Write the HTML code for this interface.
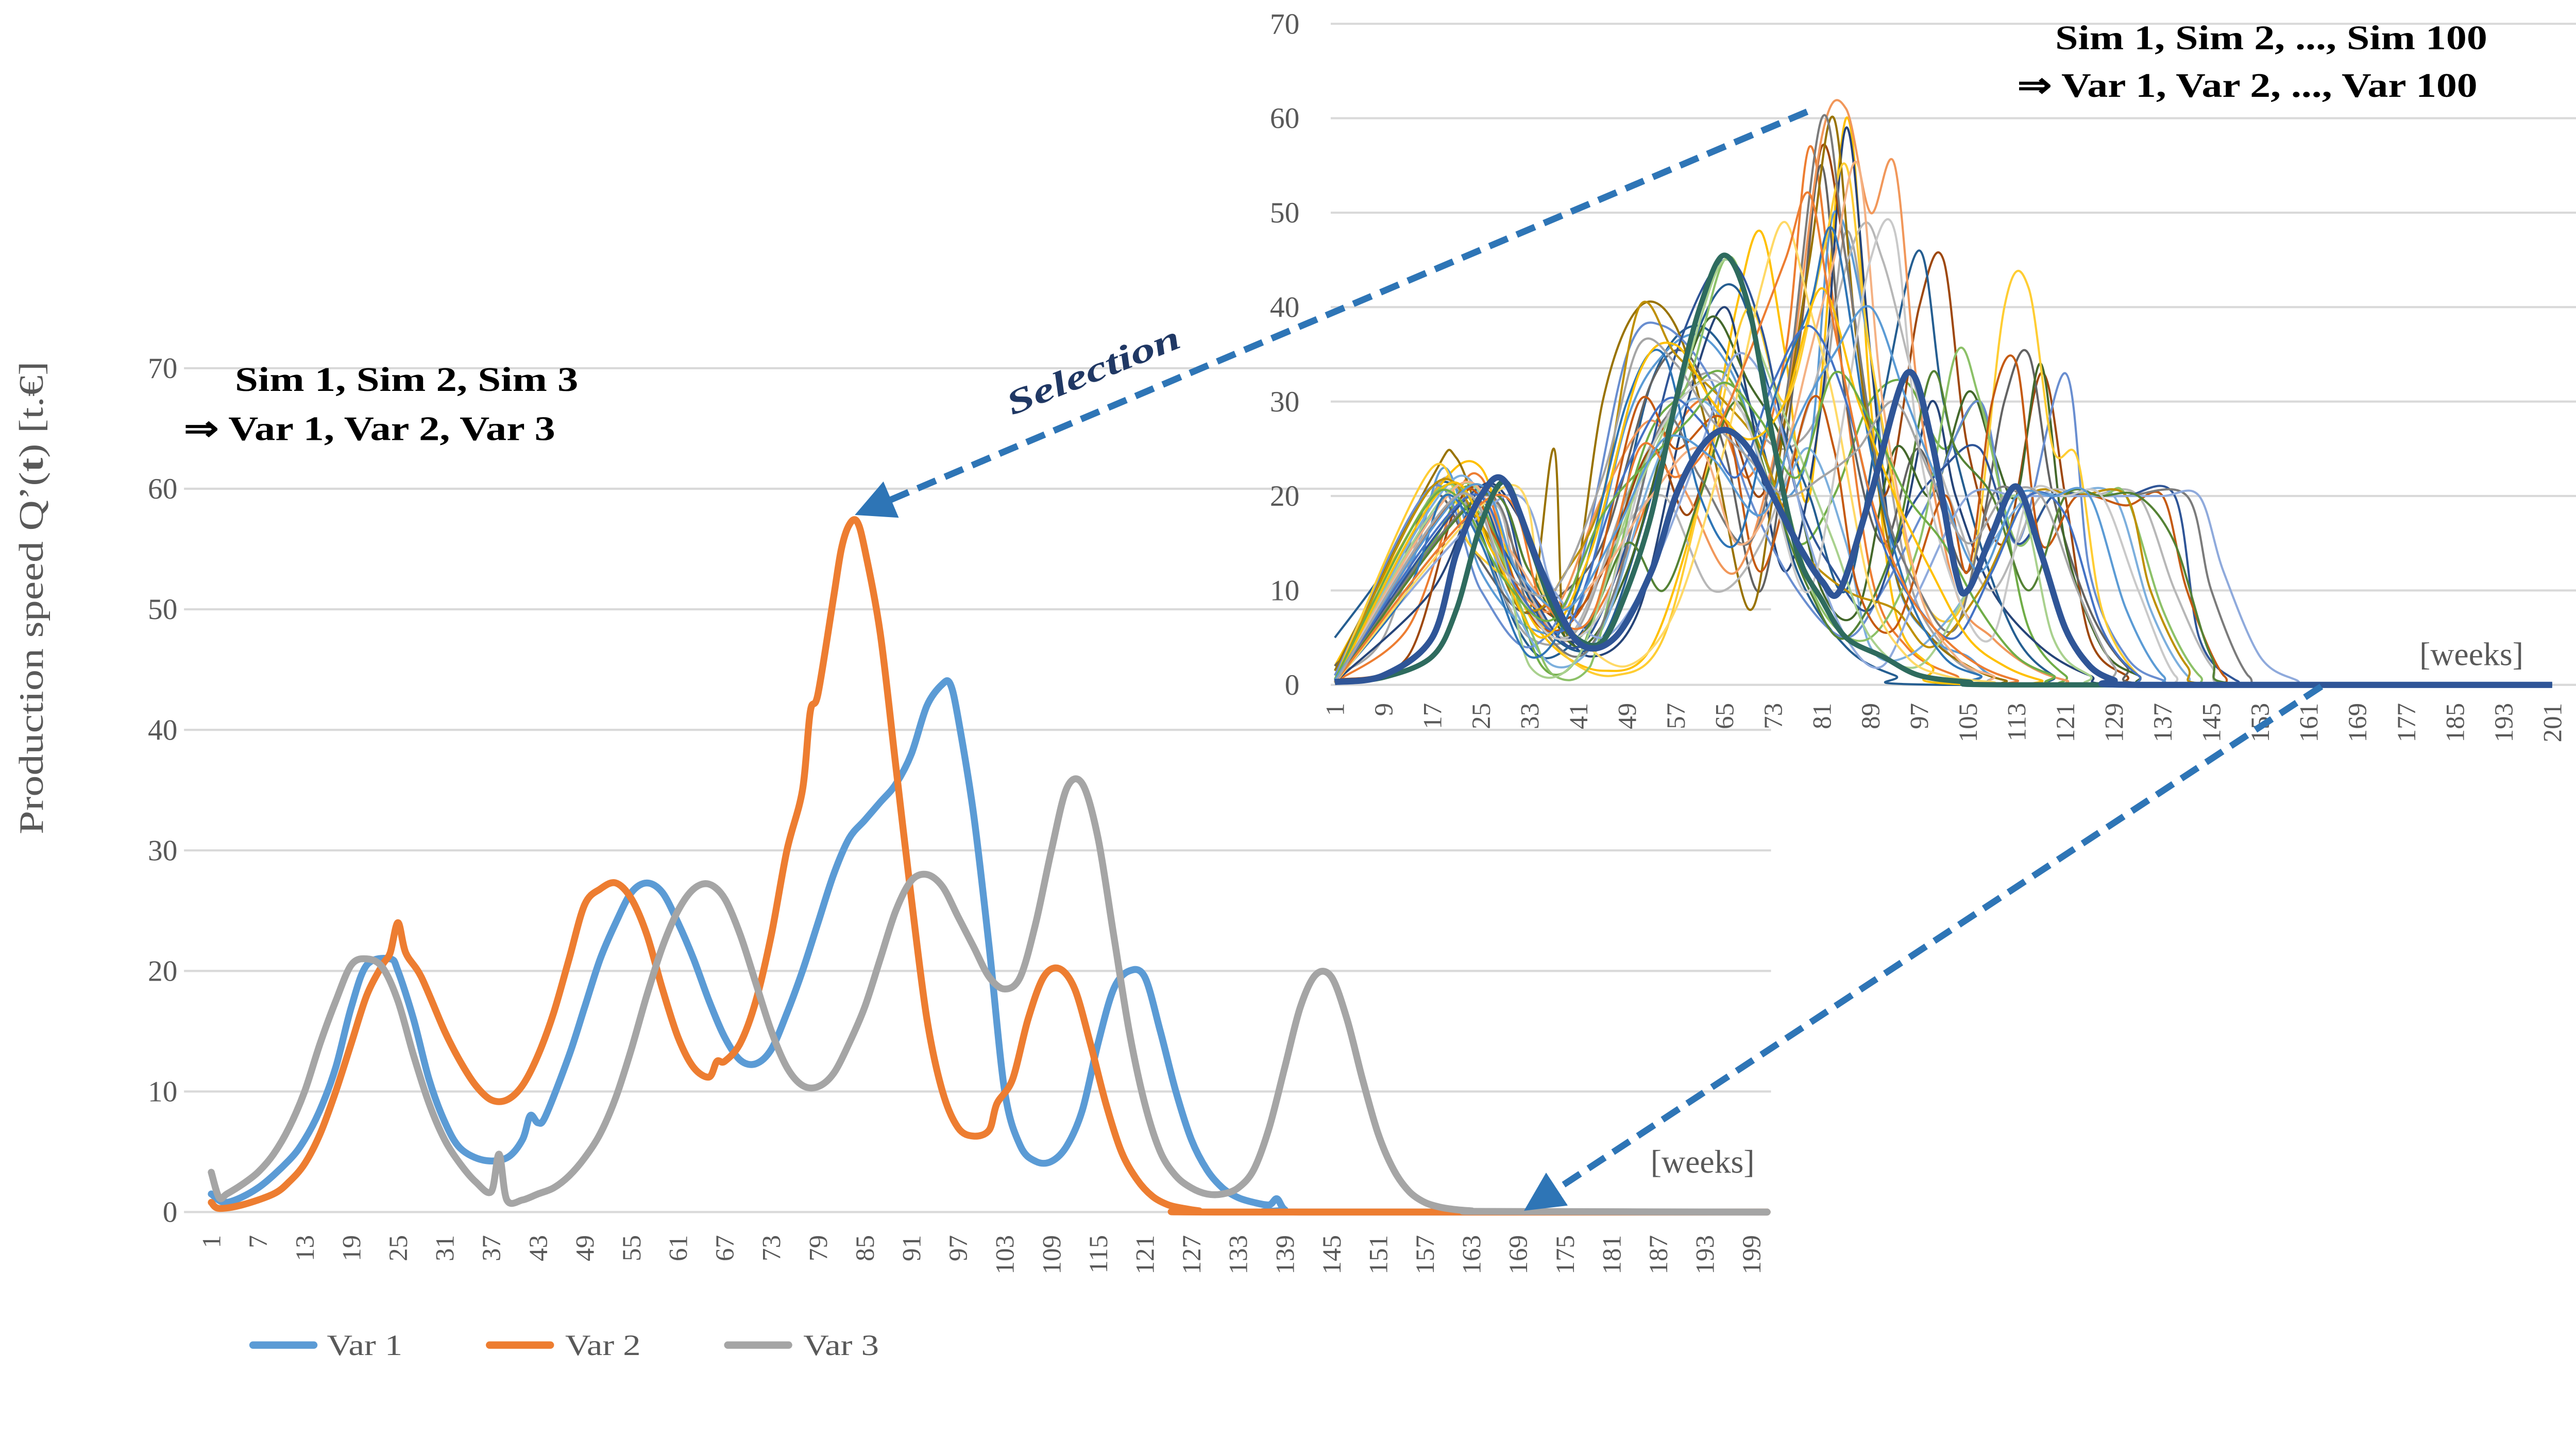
<!DOCTYPE html>
<html><head><meta charset="utf-8"><style>
html,body{margin:0;padding:0;background:#fff;overflow:hidden;width:100%;height:100%;}
svg{display:block;width:100vw;height:53.522vw;}
</style></head><body>
<svg id="fig" xmlns="http://www.w3.org/2000/svg" viewBox="0 0 1568 839.2" preserveAspectRatio="none" font-family="'Liberation Serif', serif">
<defs>
<marker id="ah" markerWidth="6" markerHeight="6" refX="5" refY="3" orient="auto" markerUnits="strokeWidth">
<path d="M0,0 L6,3 L0,6 z" fill="#2E75B6"/>
</marker>
</defs>
<g id="mainGrid"></g>
<g id="mainY"></g>
<g id="mainX"></g>
<g id="insetGrid"></g>
<g id="insetY"></g>
<g id="insetX"></g>
<g id="insetLines"></g>
<g id="mainLines"></g>

<text transform="translate(26,364) rotate(-90)" text-anchor="middle" font-size="21" fill="#595959" textLength="288" lengthAdjust="spacingAndGlyphs">Production speed Q’(<tspan font-weight="bold">t</tspan>) [t.€]</text>
<text x="143" y="238" font-size="21" font-weight="bold" fill="#000" textLength="209" lengthAdjust="spacingAndGlyphs">Sim 1, Sim 2, Sim 3</text>
<text x="112" y="268" font-size="21" font-weight="bold" fill="#000" textLength="226" lengthAdjust="spacingAndGlyphs">⇒ Var 1, Var 2, Var 3</text>
<text x="1251" y="30" font-size="21" font-weight="bold" fill="#000" textLength="263" lengthAdjust="spacingAndGlyphs">Sim 1, Sim 2, ..., Sim 100</text>
<text x="1228" y="59" font-size="21" font-weight="bold" fill="#000" textLength="280" lengthAdjust="spacingAndGlyphs">⇒ Var 1, Var 2, ..., Var 100</text>
<text x="1068" y="714" text-anchor="end" font-size="20" fill="#595959">[weeks]</text>
<text x="1536" y="405" text-anchor="end" font-size="20" fill="#595959">[weeks]</text>

<line x1="1100" y1="68" x2="524" y2="312" stroke="#2E75B6" stroke-width="4" stroke-dasharray="12 6" marker-end="url(#ah)"/>
<line x1="1413" y1="418" x2="931" y2="735" stroke="#2E75B6" stroke-width="4" stroke-dasharray="12 6" marker-end="url(#ah)"/>
<text transform="translate(668,232) rotate(-22)" text-anchor="middle" font-size="21" font-weight="bold" font-style="italic" fill="#203864" textLength="112" lengthAdjust="spacingAndGlyphs">Selection</text>

<g>
<line x1="154" y1="819" x2="191" y2="819" stroke="#5B9BD5" stroke-width="4.5" stroke-linecap="round"/>
<text x="199" y="825" font-size="18" fill="#595959" textLength="46" lengthAdjust="spacingAndGlyphs">Var 1</text>
<line x1="298" y1="819" x2="335" y2="819" stroke="#ED7D31" stroke-width="4.5" stroke-linecap="round"/>
<text x="344" y="825" font-size="18" fill="#595959" textLength="46" lengthAdjust="spacingAndGlyphs">Var 2</text>
<line x1="443" y1="819" x2="480" y2="819" stroke="#A5A5A5" stroke-width="4.5" stroke-linecap="round"/>
<text x="489" y="825" font-size="18" fill="#595959" textLength="46" lengthAdjust="spacingAndGlyphs">Var 3</text>
</g>
</svg>
<script>
// ---------- main chart data ----------
const var1Weeks = [1,3,7,11,13,15,17,19,21,24,25,27,29,31,33,36,39,41,42,43,44,47,49,51,53,55,57,59,61,63,65,67,69,71,73,75,77,79,81,83,85,87,89,91,93,95,96,97,99,101,103,105,107,109,111,113,115,117,119,121,123,125,127,129,131,133,135,137,138,139,141,201];
const var1Values = [1.5,0.8,2,4.3,6,8.5,12,17,20.5,21,20,16,11,7.5,5.3,4.3,4.5,6,8,7.4,8,13,17,21,24,26.5,27.3,26.5,24,21,17.5,14.5,12.6,12.3,13.5,16.5,20,24,28,31,32.5,34,35.5,38,42,43.8,43.8,41,33,22,10,5.5,4.2,4.2,5.5,8.5,14,18.5,20,19.5,15,10,6,3.5,2,1.2,0.8,0.6,1.1,0.2,0,0];
const var2Weeks = [1,2,5,9,11,13,15,17,19,21,23,24,25,26,28,31,33,35,37,39,41,43,45,47,49,51,53,55,57,59,61,63,65,66,67,69,71,73,75,77,78,79,81,82,83,84,85,87,89,91,93,95,97,99,101,102,104,106,108,110,112,114,116,118,120,122,124,126,128,130,201];
const var2Values = [0.8,0.3,0.6,1.5,2.5,4,6.5,10,14,18,20.5,21.5,24,21.5,19.5,15,12.5,10.5,9.3,9.3,10.5,13,16.5,21,25.5,26.8,27.3,26,23,18.5,14.5,12,11.2,12.5,12.5,14,17.5,23,30,35,41.5,43,51,55,57,57.3,55,48,37,26,16,10,7,6.3,6.8,9,11,16,19.5,20.2,18.5,14,9,5,2.7,1.3,0.6,0.3,0.1,0,0];
const var3Weeks = [1,2,3,5,7,9,11,13,15,17,19,21,23,25,27,29,31,33,35,37,38,39,41,43,45,47,49,51,53,55,57,59,61,63,65,67,69,71,73,75,77,79,81,83,85,87,89,91,93,95,97,99,101,103,105,107,109,111,113,115,117,119,121,123,125,127,129,131,133,135,137,139,141,143,145,147,149,151,153,155,157,159,161,163,165,201];
const var3Values = [3.3,1.2,1.5,2.3,3.3,4.8,7,10,14,17.5,20.5,21,20.3,17.5,13,9,6,4,2.5,1.7,4.8,1,1,1.5,2,3,4.5,6.5,9.5,13.5,18,22,25,26.8,27.2,26,23,19,15,12,10.5,10.4,11.5,14,17,21,25,27.5,28,27,24.5,22,19.5,18.5,19.5,24,30,35.2,35.5,31,23,15,9,5,3,2,1.5,1.5,2,3.5,7,12,17,19.7,19.5,16,11,6.5,3.5,1.7,0.8,0.4,0.2,0.1,0.05,0];
const mainYTicks = [0,10,20,30,40,50,60,70];
const mainXTickLabels = []; for (let w=1; w<=199; w+=6) mainXTickLabels.push(w);

// ---------- inset data (hand-digitised representative simulations: "week:value") ----------
const simSeries = [
"1:5 9:12 17:21 23:19 31:6 37:3 45:10 53:32 61:38 69:30 77:12 85:4 93:1 101:0",
"1:0.3 13:6 21:20 25:22 29:15 35:7 41:5 49:14 57:27 63:30 69:22 75:35 79:57 83:40 89:12 95:4 103:1 111:0",
"1:1 9:5 17:20 21:21 27:12 33:5 41:6 49:20 57:30 63:33 69:28 75:25 81:30 85:48 89:35 95:12 101:4 107:1 113:0",
"1:2 17:20 25:23 31:10 37:4 45:1.5 53:4 61:20 67:40 71:48 75:35 79:20 85:60 89:30 93:8 99:2 107:0",
"1:1 13:12 19:23 25:12 33:6 41:8 49:28 55:35 61:37 67:32 73:20 79:25 83:50 89:35 93:12 99:5 105:3 109:1 117:0",
"1:0.5 17:15 23:21 29:13 35:2 41:3 47:15 53:27 59:31 65:33 71:25 77:15 83:20 89:30 95:32 101:25 107:30 111:18 115:6 121:1 127:0",
"1:0.3 17:10 25:21 31:18 37:8 43:3 51:8 59:30 65:40 69:30 75:12 81:30 85:59 89:35 93:15 99:30 103:20 109:10 117:4 125:1 133:0",
"1:0.5 13:3 21:19 27:20 33:10 39:7 45:12 53:25 59:18 65:28 71:20 77:35 81:57 85:45 91:20 97:40 101:45 105:25 111:15 117:33 121:20 125:5 131:1 137:0",
"1:2 9:8 17:20 23:15 31:8 37:9 45:15 53:32 59:35 65:25 71:10 77:35 81:55 85:30 91:15 97:25 105:12 111:30 115:35 119:20 125:8 131:2 137:0",
"1:1.5 17:22 21:24 27:14 33:8 37:25 39:5 45:30 51:40 57:38 63:25 69:8 73:20 79:45 83:60 87:35 93:12 99:5 105:2 111:0.5 119:0",
"1:0.5 21:21 29:14 37:5 45:5 53:20 61:38 67:42 73:30 79:20 85:10 91:30 97:46 101:30 107:15 113:5 119:1 125:0",
"1:0.2 25:20 33:12 41:4 49:12 57:30 63:39 69:32 75:25 81:10 87:8 93:25 99:20 105:31 109:25 113:20 117:34 121:15 127:4 133:1 139:0",
"1:1 17:21 25:10 33:4 41:12 49:35 55:38 63:32 69:20 77:10 85:5 91:10 99:20 107:30 113:15 121:33 125:12 131:3 137:0.5 143:0",
"1:0.5 21:20 29:12 37:8 45:20 53:28 59:20 67:12 75:30 81:58 85:61 89:50 93:55 97:30 103:10 109:5 115:2 121:0.5 129:0",
"1:0.3 25:19 31:12 39:5 47:15 55:20 63:10 71:15 79:30 87:48 91:45 97:30 103:18 109:10 117:20 125:20 133:20 139:10 145:2 151:0",
"1:0.5 17:23 23:15 31:10 39:3 47:1 55:5 63:25 69:40 75:30 81:45 85:55 89:35 97:10 105:10 111:40 115:42 119:25 123:24 127:8 133:1 139:0",
"1:0.3 21:22 29:10 37:2 45:6 53:22 59:30 65:28 73:20 79:25 85:15 89:4 95:3 103:8 109:15 115:20 121:20 129:20 135:8 141:1 147:0",
"1:0.3 17:20 25:18 33:6 37:1 43:2 51:22 59:32 65:45 69:40 75:20 81:8 89:5 97:15 103:35 107:30 113:15 119:20 127:20 131:20 137:8 143:1 149:0",
"1:0.2 25:21 33:10 41:4 49:15 57:35 65:45 71:38 77:20 83:12 89:8 95:18 101:23 107:25 113:15 119:20 125:20 131:20 139:20 143:5 149:0.5 155:0",
"1:0.2 21:20 27:16 35:6 43:10 51:30 57:25 65:28 71:12 79:30 83:25 87:10 93:6 101:20 105:12 109:30 113:34 117:15 123:20 131:19 137:20 141:10 147:1 153:0",
"1:0.3 25:20 33:8 41:3 47:10 55:28 61:22 69:15 75:30 81:60 85:45 91:20 97:10 103:6 109:20 115:20 123:20 131:20 141:20 145:10 151:1 157:0",
"1:0.5 17:21 25:17 33:8 39:12 45:20 51:40 57:35 65:30 71:25 77:15 85:10 93:8 99:4 107:10 115:20 123:20 131:20 135:10 141:2 147:0",
"1:0.3 29:20 37:10 45:5 53:12 61:25 67:35 73:30 79:15 85:5 91:2 97:10 105:20 113:20 121:20 129:20 137:20 143:20 147:12 153:3 159:0.5 163:0",
"1:0.2 25:20 33:12 41:5 49:15 55:10 61:20 67:30 73:20 79:10 85:5 93:15 99:33 103:25 109:20 115:10 121:20 127:20 133:20 139:15 145:3 151:0",
"1:0.3 19:20 27:18 33:2 41:3 49:18 57:30 65:45 71:35 77:25 83:15 89:5 97:2 105:10 113:20 119:5 125:1 131:0",
"1:0.5 21:21 29:15 37:8 45:12 53:20 61:25 67:15 73:20 79:35 83:45 87:55 91:30 97:10 103:3 109:1 117:0",
"1:0.3 13:10 19:20 25:15 33:3 41:10 49:30 55:35 61:20 67:15 73:30 79:40 83:48 89:25 95:10 101:3 107:1 113:0",
"1:0.2 29:21 35:10 41:5 49:2 57:8 65:25 71:42 75:49 79:40 83:30 89:10 95:3 101:1 109:0.3 117:0",
"1:0.5 21:20 29:12 37:5 45:8 53:25 61:32 67:30 73:20 79:10 85:30 89:45 93:48 97:25 103:10 109:5 115:20 121:20 127:20 133:10 139:1 145:0",
"1:0.4 23:20 31:10 39:6 47:20 55:30 61:28 67:22 73:32 79:38 85:30 91:15 97:8 103:5 109:12 115:20 121:18 127:6 133:1 139:0",
"1:0.2 19:21 27:14 35:5 43:14 51:33 57:36 63:30 69:26 75:30 81:42 87:30 93:20 99:12 105:5 111:2 117:0.5 123:0",
"1:0.6 15:18 21:20 29:11 37:7 45:18 53:24 59:28 65:32 71:28 77:22 83:33 89:28 95:20 101:15 107:8 113:3 119:1 125:0",
"1:0.3 27:20 35:9 43:7 51:25 57:22 63:26 69:35 75:45 79:52 83:38 89:20 95:10 101:5 107:2 113:0.5 119:0",
"1:0.5 23:21 31:12 39:8 47:16 55:26 63:24 71:18 77:28 83:35 89:40 95:30 101:20 107:12 113:20 119:20 125:20 131:8 137:1 143:0",
"1:0.2 21:20 29:12 37:10 45:22 51:36 57:34 63:28 69:24 75:20 81:22 87:25 93:30 99:22 105:15 111:20 117:20 123:10 129:2 135:0",
"1:0.3 9:0.8 17:3 21:8 25:17 29:21.5 33:15 37:8 41:4.8 45:4.6 49:10 53:18 57:30 61:40 65:45.5 69:40 73:26 77:14 81:9 85:5 91:3 97:1 105:0.3 113:0",
"1:0.3 9:1 17:5 21:14 25:20 29:21.5 35:12 41:4.5 47:5 53:12 57:20 61:25 65:27 69:25 73:20 77:15 81:11 84:10 89:20 95:33 99:26 103:12 105:10 109:16 113:21 117:14 121:6 125:2 129:0.5 133:0"
];
const simColors = ["#255E91","#ED7D31","#A5A5A5","#FFC000","#5B9BD5","#70AD47","#264478","#9E480E","#636363","#997300","#255E91","#43682B","#698ED0","#F1975A","#B7B7B7","#FFCD33","#7CAFDD","#8CC168","#2F5597","#C55A11","#7B7B7B","#BF9000","#8FAADC","#548235","#A9D18E","#F4B183","#2E75B6","#FFD966","#C9C9C9","#4472C4","#FFC000","#70AD47","#ED7D31","#5B9BD5","#A5A5A5","#2E6B5E","#2F5597"];
const simWidths = [1.3,1.3,1.3,1.3,1.3,1.3,1.3,1.3,1.3,1.3,1.3,1.3,1.3,1.3,1.3,1.3,1.3,1.3,1.3,1.3,1.3,1.3,1.3,1.3,1.3,1.3,1.3,1.3,1.3,1.3,1.3,1.3,1.3,1.3,1.3,3.2,3.8];
const insetYTicks = [0,10,20,30,40,50,60,70];
const insetXTickLabels = []; for (let w=1; w<=201; w+=8) insetXTickLabels.push(w);

// ---------- axes ----------
const NS = "http://www.w3.org/2000/svg";
const mX = w => 128.6 + (w-1)*4.735;
const mY = v => 738 - v*7.34;
const iX = w => 812.5 + (w-1)*3.705;
const iY = v => 417 - v*5.75;

function mk(tag, attrs, parent){ const e=document.createElementNS(NS,tag); for(const k in attrs) e.setAttribute(k,attrs[k]); parent.appendChild(e); return e; }

function curve(ws, vs, fx, fy){
  const pts = ws.map((w,i)=>[fx(w), fy(Math.max(0,vs[i]))]);
  let d = "M"+pts[0][0].toFixed(2)+","+pts[0][1].toFixed(2);
  const zero=fy(0);
  for (let i=0;i<pts.length-1;i++){
    const p0=pts[Math.max(0,i-1)], p1=pts[i], p2=pts[i+1], p3=pts[Math.min(pts.length-1,i+2)];
    const t=0.16;
    let c1y=Math.min(p1[1]+(p2[1]-p0[1])*t, zero), c2y=Math.min(p2[1]-(p3[1]-p1[1])*t, zero);
    d += " C"+(p1[0]+(p2[0]-p0[0])*t).toFixed(2)+","+c1y.toFixed(2)+" "+(p2[0]-(p3[0]-p1[0])*t).toFixed(2)+","+c2y.toFixed(2)+" "+p2[0].toFixed(2)+","+p2[1].toFixed(2);
  }
  return d;
}

const gM = document.getElementById('mainGrid');
const yM = document.getElementById('mainY');
mainYTicks.forEach(v=>{
  const l = mk('line',{x1:112,x2:1078,y1:mY(v),y2:mY(v),stroke:'#D9D9D9','stroke-width':1.3},gM);
  
  
  const t = mk('text',{x:108,y:mY(v)+6,'text-anchor':'end','font-size':18,fill:'#595959'},yM);
  t.textContent=v;
  
  
});
const xM = document.getElementById('mainX');
mainXTickLabels.forEach(w=>{
  const t = mk('text',{transform:`translate(${mX(w)+5.5},752) rotate(-90)`,'text-anchor':'end','font-size':16,fill:'#595959'},xM);
  t.textContent=w;
  
  
});

const gI = document.getElementById('insetGrid');
const yI = document.getElementById('insetY');
insetYTicks.forEach(v=>{
  const l = mk('line',{x1:810,x2:1568,y1:iY(v),y2:iY(v),stroke:'#D9D9D9','stroke-width':1.3},gI);
  
  
  const t = mk('text',{x:791,y:iY(v)+6,'text-anchor':'end','font-size':18,fill:'#595959'},yI);
  t.textContent=v;
  
  
});
const xI = document.getElementById('insetX');
insetXTickLabels.forEach(w=>{
  const t = mk('text',{transform:`translate(${iX(w)+5.5},428) rotate(-90)`,'text-anchor':'end','font-size':16,fill:'#595959'},xI);
  t.textContent=w;
  
  
});

// inset series
const gL = document.getElementById('insetLines');
simSeries.forEach((s,i)=>{
  const ws=[], vs=[];
  s.split(' ').forEach(p=>{const [a,b]=p.split(':'); ws.push(+a); vs.push(+b);});
  if (ws[ws.length-1] < 201){ ws.push(201); vs.push(0); }
  const p = mk('path',{d:curve(ws,vs,iX,iY),fill:'none',stroke:simColors[i],'stroke-width':simWidths[i],'stroke-linejoin':'round'},gL);
  
  
});

// main series
const gML = document.getElementById('mainLines');
[[var1Weeks,var1Values,'#5B9BD5','var1'],[var2Weeks,var2Values,'#ED7D31','var2'],[var3Weeks,var3Values,'#A5A5A5','var3']].forEach(([ws,vs,c,n])=>{
  const p = mk('path',{d:curve(ws,vs,mX,mY),fill:'none',stroke:c,'stroke-width':4.2,'stroke-linejoin':'round','stroke-linecap':'round'},gML);
  
  
});
</script>
</body></html>
